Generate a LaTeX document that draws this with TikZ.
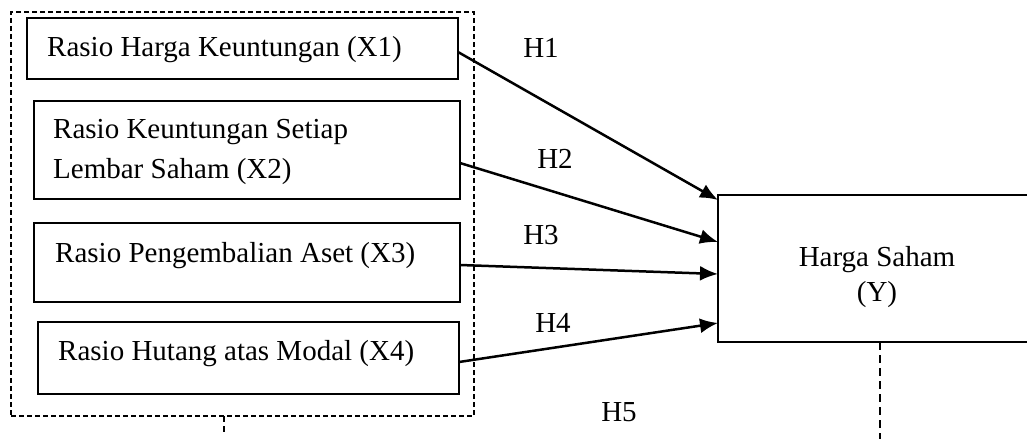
\documentclass[tikz,border=0pt]{standalone}
\usepackage{fontspec}
\setmainfont{Liberation Serif}
\usetikzlibrary{arrows.meta}

\begin{document}
\begin{tikzpicture}[x=1pt, y=-1pt,
	varbox/.style={rectangle, draw, line width=1.2pt, inner sep=0, outer sep=0},
	vartext/.style={inner sep=0, anchor=base west, font=\fontsize{29}{40}\selectfont},
	hlabel/.style={inner sep=0, anchor=base, font=\fontsize{29}{40}\selectfont},
	hyp/.style={line width=2.5pt, -{Latex[length=18pt,width=15pt]}},
	dashbox/.style={draw, line width=1.2pt, dash pattern=on 5pt off 3pt}]
\useasboundingbox (0,0) rectangle (1027,439);
\clip (0,0) rectangle (1027,439);

%\fill[gray!10] (0,0) rectangle (1027,439);
\node[rectangle, dashbox, inner sep=0, outer sep=0, minimum width=463, minimum height=404] (grp) at (242.5,214) {};

\node[varbox, minimum width=431, minimum height=61] (x1) at (242.5,48.5) {};
\node[varbox, minimum width=426, minimum height=98] (x2) at (247,150) {};
\node[varbox, minimum width=426, minimum height=79] (x3) at (247,262.5) {};
\node[varbox, minimum width=421, minimum height=72] (x4) at (248.5,358) {};
\node[varbox, minimum width=318, minimum height=147] (y) at (877,268.5) {};

\node[vartext] (x1t) at (47,56) {Rasio Harga Keuntungan (X1)};
\node[vartext] (x2t) at (53,138) {Rasio Keuntungan Setiap};
\node[vartext] (x2u) at (53,178) {Lembar Saham (X2)};
\node[vartext] (x3t) at (55,262) {Rasio Pengembalian Aset (X3)};
\node[vartext] (x4t) at (58,360) {Rasio Hutang atas Modal (X4)};
\node[hlabel] (yt) at (877,266) {Harga Saham};
\node[hlabel] (yu) at (877,301) {(Y)};

\node[hlabel] (h1) at (541,57) {H1};
\node[hlabel] (h2) at (555,168) {H2};
\node[hlabel] (h3) at (541,244) {H3};
\node[hlabel] (h4) at (553,332) {H4};
\node[hlabel] (h5) at (619,421) {H5};

\draw[hyp] ([yshift=-3.5pt]x1.east) -- ([yshift=68.5pt]y.west);
\draw[hyp] ([yshift=-13pt]x2.east) -- ([yshift=26.5pt]y.west);
\draw[hyp] ([yshift=-2.5pt]x3.east) -- ([yshift=-5.5pt]y.west);
\draw[hyp] ([yshift=-4pt]x4.east) -- ([yshift=-54.5pt]y.west);

%moderasi
\coordinate (grptail) at (224,433);
\coordinate (ytail) at (880,439);
\draw[dashbox, line width=1.8pt, dash pattern=on 6pt off 4pt] ([xshift=-18.5pt]grp.south) -- (grptail);
\draw[line width=2.2pt, dash pattern=on 8pt off 5pt] ([xshift=3pt]y.south) -- (ytail);

\end{tikzpicture}
\end{document}
